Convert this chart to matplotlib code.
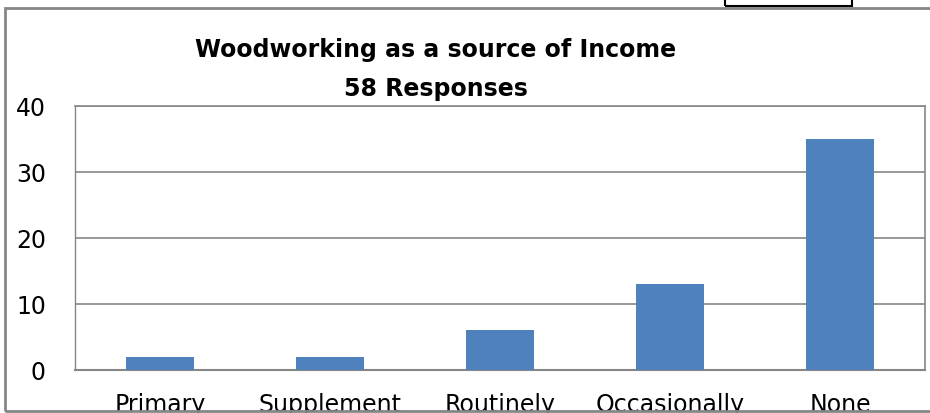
import matplotlib
matplotlib.use("Agg")
import matplotlib.pyplot as plt
from matplotlib.patches import Rectangle

categories = ["Primary", "Supplement", "Routinely", "Occasionally", "None"]
values = [2, 2, 6, 13, 35]
yticks = [0, 10, 20, 30, 40]

plt.rcParams["font.family"] = ["DejaVu Sans"]

W, H = 930, 414
fig = plt.figure(figsize=(W / 100, H / 100), dpi=100)
ax = fig.add_axes([75 / W, (H - 371) / H, 850 / W, 264 / H])

x = range(len(categories))
ax.bar(x, values, width=0.4, color="#4f81bd", zorder=3)
ax.set_xlim(-0.5, len(categories) - 0.5)
ax.set_ylim(0, 40)
ax.set_yticks(yticks)
ax.set_yticklabels([str(v) for v in yticks], fontsize=17)
ax.set_xticks(list(x))
ax.set_xticklabels(categories, fontsize=17)
ax.tick_params(axis="y", length=0, pad=21)
ax.tick_params(axis="x", length=0, pad=16)
ax.yaxis.grid(True, color="#868686", linewidth=1.2, zorder=0)
for s in ["top", "right"]:
    ax.spines[s].set_color("#868686")
    ax.spines[s].set_linewidth(1.2)
ax.spines["left"].set_color("#868686")
ax.spines["left"].set_linewidth(1.0)
ax.spines["bottom"].set_color("#868686")
ax.spines["bottom"].set_linewidth(1.5)

fig.text(436 / W, 1 - 50 / H, "Woodworking as a source of Income", ha="center", va="center",
         fontsize=17, fontweight="bold")
fig.text(436 / W, 1 - 89 / H, "58 Responses", ha="center", va="center",
         fontsize=17, fontweight="bold")

# outer chart border
fig.add_artist(Rectangle((5 / W, 1 - 412 / H), 1.0, 403 / H, transform=fig.transFigure,
                         fill=False, edgecolor="#868686", linewidth=2, clip_on=False))
# partial box at top right
fig.add_artist(Rectangle((725 / W, 1 - 7 / H), 127 / W, 0.05, transform=fig.transFigure,
                         fill=False, edgecolor="black", linewidth=1.5, clip_on=False))

fig.savefig("out.png", dpi=100)
